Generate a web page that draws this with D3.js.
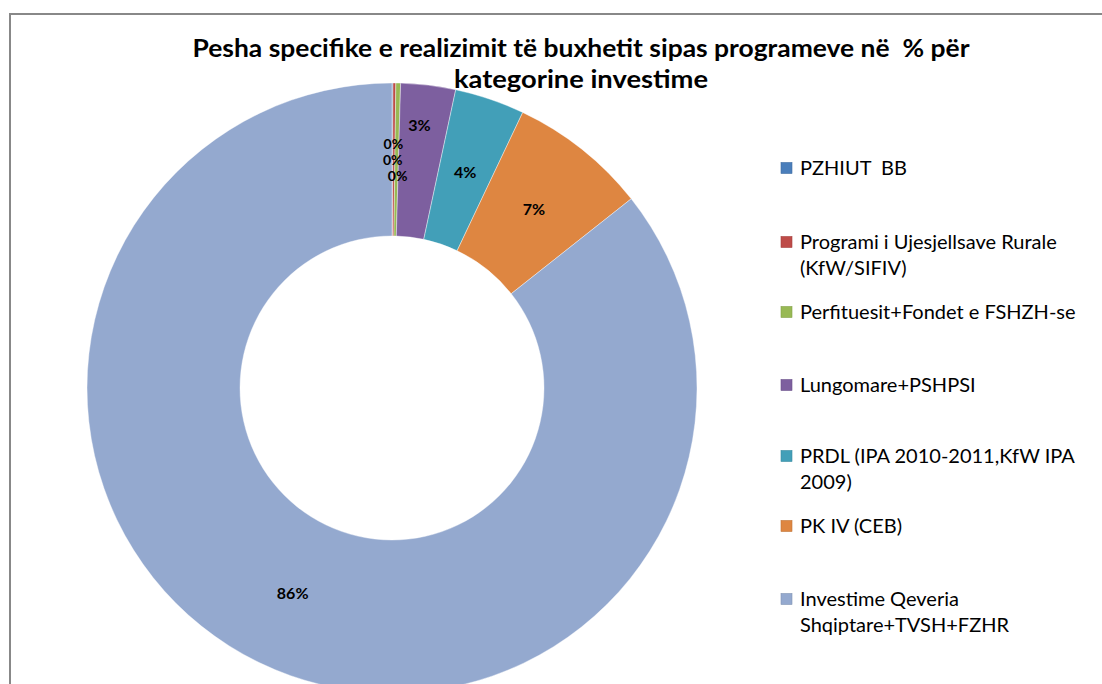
<!DOCTYPE html>
<html>
<head>
<meta charset="utf-8">
<script src="https://cdn.jsdelivr.net/npm/d3@7"></script>
<style>
  body { margin: 0; background: #fff; }
  svg { display: block; }
  text { white-space: pre; }
</style>
</head>
<body>
<div id="chart"></div>
<script>
// te dhenat
const categories = [
    ['PZHIUT  BB'],
    ['Programi i Ujesjellsave Rurale', '(KfW/SIFIV)'],
    ['Perfituesit+Fondet e FSHZH-se'],
    ['Lungomare+PSHPSI'],
    ['PRDL (IPA 2010-2011,KfW IPA', '2009)'],
    ['PK IV (CEB)'],
    ['Investime Qeveria', 'Shqiptare+TVSH+FZHR']
];
const values = [0.05, 0.15, 0.25, 2.9, 3.7, 7.3, 85.65];
const labels = ['0%', '0%', '0%', '3%', '4%', '7%', '86%'];
const colors = ['#4a7ebb', '#be4b48', '#98b954', '#7d5f9f', '#429fb8', '#de8641', '#94a9cf'];
const titleLines = ['Pesha specifike e realizimit të buxhetit sipas programeve në  % për', 'kategorine investime'];
const titleWidths = [777, 254];

const W = 1102, H = 684;
const cx = 392, cy = 388;
const outerR = 305, innerR = 152;

let svg = d3.select('#chart').append('svg')
    .attr('width', W)
    .attr('height', H);

// kuadri
svg.append('path')
    .attr('d', 'M10,' + (H + 2) + ' L10,14 L' + (W + 2) + ',14')
    .attr('fill', 'none')
    .attr('stroke', '#888')
    .attr('stroke-width', 2);

// titulli
svg.append('g').selectAll('text')
    .data(titleLines)
    .enter()
    .append('text')
    .attr('x', 581)
    .attr('y', (d, i) => 57 + i * 31)
    .attr('text-anchor', 'middle')
    .attr('font-family', 'Lato, "Open Sans", sans-serif')
    .attr('font-weight', 'bold')
    .attr('font-size', 24)
    .attr('textLength', (d, i) => titleWidths[i])
    .attr('lengthAdjust', 'spacingAndGlyphs')
    .attr('fill', '#000')
    .text(d => d);

// donut
let pie = d3.pie().sort(null).value(d => d);
let piedata = pie(values);
let arc = d3.arc().innerRadius(innerR).outerRadius(outerR);
let labelArc = d3.arc().innerRadius(228).outerRadius(228);

let arcs = svg.append('g')
    .attr('transform', 'translate(' + cx + ',' + cy + ')');

arcs.selectAll('path')
    .data(piedata)
    .enter()
    .append('path')
    .attr('d', arc)
    .attr('fill', (d, i) => colors[i])
    .attr('stroke', '#fff')
    .attr('stroke-width', 0.4);

// etiketat, te voglat i rendis njera mbi tjetren
arcs.selectAll('text')
    .data(piedata)
    .enter()
    .append('text')
    .attr('transform', function(d, i) {
        let c = labelArc.centroid(d);
        if (i < 3) {
            c = [c[0] + (i == 1 ? -1 : 1), c[1] + (i - 1) * 16];
        } else if (i == 3) {
            c = d3.arc().innerRadius(264).outerRadius(264).centroid(d);
            c[0] -= 4;
        }
        return 'translate(' + c[0] + ',' + c[1] + ')';
    })
    .attr('text-anchor', 'middle')
    .attr('dy', '0.35em')
    .attr('font-family', 'Lato, "Open Sans", sans-serif')
    .attr('font-weight', 'bold')
    .attr('font-size', (d, i) => i < 3 ? 14 : 16)
    .attr('fill', '#000')
    .text((d, i) => labels[i]);

// legjenda
const legendY = [168, 242, 312, 385, 456, 526, 599];
let legend = svg.append('g').selectAll('g')
    .data(categories)
    .enter()
    .append('g')
    .attr('transform', (d, i) => 'translate(781,' + legendY[i] + ')');

legend.append('rect')
    .attr('x', 0)
    .attr('y', -5.5)
    .attr('width', 11)
    .attr('height', 11)
    .attr('fill', (d, i) => colors[i])
    .attr('stroke', (d, i) => d3.color(colors[i]).darker(0.4))
    .attr('stroke-width', 0.6);

legend.selectAll('text')
    .data(d => d)
    .enter()
    .append('text')
    .attr('x', 19)
    .attr('y', (d, j) => j * 26)
    .attr('dy', '0.35em')
    .attr('font-family', 'Lato, "Open Sans", sans-serif')
    .attr('font-size', 20)
    .attr('fill', '#000')
    .text(d => d);
</script>
</body>
</html>
